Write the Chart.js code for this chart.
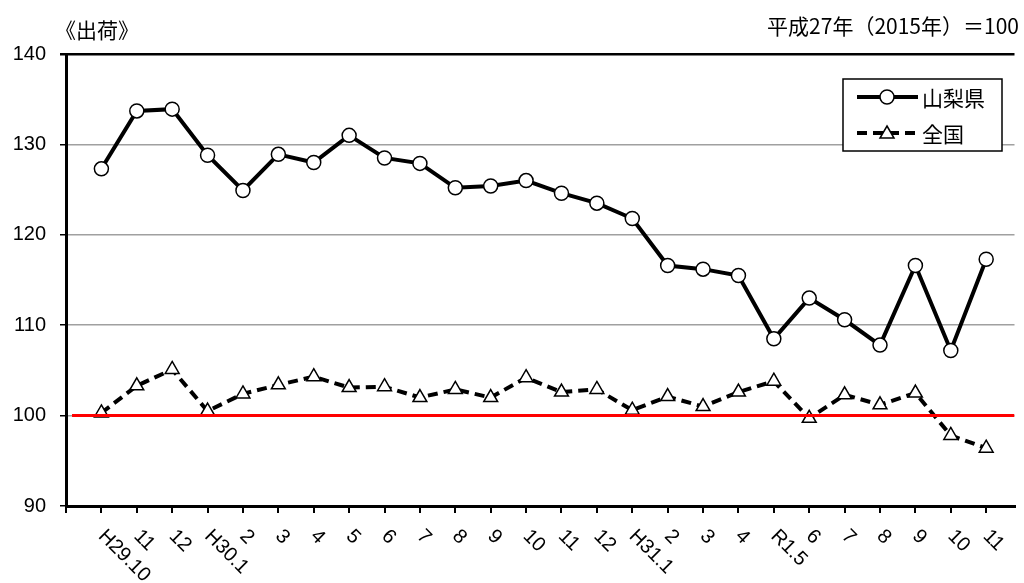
<!DOCTYPE html>
<html>
<head>
<meta charset="utf-8" />
<title>出荷</title>
<script src="https://cdn.jsdelivr.net/npm/chart.js@4.4.0/dist/chart.umd.min.js"></script>
<style>
    body{
        margin: 0;
        background: #fff;
    }
    .chartContainer{
        position: relative;
        width: 1024px;
        height: 583px;
    }
    .note{
        position: absolute;
        font-family: "Noto Sans CJK JP", sans-serif;
        color: #000;
        white-space: nowrap;
        line-height: 1;
    }
    #leftNote{
        left: 55px;
        top: 19px;
        font-size: 21px;
    }
    #rightNote{
        right: 5px;
        top: 15px;
        font-size: 21px;
    }
</style>
</head>
<body>
<div class="chartContainer">
    <canvas id="myChart" width="1024" height="583"></canvas>
    <div class="note" id="leftNote">《出荷》</div>
    <div class="note" id="rightNote">平成27年（2015年）＝100</div>
</div>

<script>
// months from H29.10 to R1.11
var labels = ["H29.10", "11", "12", "H30.1", "2", "3", "4", "5", "6", "7", "8", "9", "10", "11", "12",
              "H31.1", "2", "3", "4", "R1.5", "6", "7", "8", "9", "10", "11"];

var yamanashi = [127.3, 133.7, 133.9, 128.8, 124.9, 128.9, 128.0, 131.0, 128.5, 127.9, 125.2, 125.4, 126.0,
                 124.6, 123.5, 121.8, 116.6, 116.2, 115.5, 108.5, 113.0, 110.6, 107.8, 116.6, 107.2, 117.3];

var zenkoku = [100.3, 103.3, 105.1, 100.5, 102.4, 103.4, 104.3, 103.1, 103.2, 102.0, 102.9, 102.0, 104.2,
               102.6, 102.9, 100.6, 102.1, 101.0, 102.6, 103.8, 99.7, 102.3, 101.2, 102.5, 97.8, 96.4];

var baseValue = 100;
var yTicks = [90, 100, 110, 120, 130, 140];

function toPoints(arr) {
    return arr.map(function (v, i) { return {x: i, y: v}; });
}

var xMin = -1;
var xMax = 25.8;

// legend box drawn inside the plot, like the original
var legendPlugin = {
    id: 'boxLegend',
    afterDraw: function (chart) {
        var ctx = chart.ctx;
        var left = 843, top = 79, w = 159, h = 72;
        ctx.save();
        ctx.fillStyle = '#fff';
        ctx.fillRect(left, top, w, h);
        ctx.strokeStyle = '#000';
        ctx.lineWidth = 1.5;
        ctx.strokeRect(left, top, w, h);

        var rows = [
            {text: '山梨県', y: 97, dash: [], style: 'circle'},
            {text: '全国', y: 133, dash: [10, 6], style: 'triangle'}
        ];
        rows.forEach(function (r) {
            ctx.beginPath();
            ctx.setLineDash(r.dash);
            ctx.lineWidth = 4;
            ctx.strokeStyle = '#000';
            ctx.moveTo(857, r.y);
            ctx.lineTo(918, r.y);
            ctx.stroke();
            ctx.setLineDash([]);
            ctx.lineWidth = 1.5;
            ctx.fillStyle = '#fff';
            ctx.beginPath();
            if (r.style === 'circle') {
                ctx.arc(887, r.y, 7, 0, Math.PI * 2);
            } else {
                ctx.moveTo(887, r.y - 7);
                ctx.lineTo(894, r.y + 5);
                ctx.lineTo(880, r.y + 5);
                ctx.closePath();
            }
            ctx.fill();
            ctx.stroke();
            ctx.fillStyle = '#000';
            ctx.font = '21px "Noto Sans CJK JP"';
            ctx.textAlign = 'left';
            ctx.textBaseline = 'middle';
            ctx.fillText(r.text, 922, r.y + 1);
        });
        ctx.restore();
    }
};

// x labels turned 45 degrees clockwise, starting at the tick
var xLabelPlugin = {
    id: 'slantLabels',
    afterDraw: function (chart) {
        var ctx = chart.ctx;
        var xs = chart.scales.x;
        ctx.save();
        ctx.fillStyle = '#000';
        ctx.font = '20px "Liberation Sans", Arial, sans-serif';
        ctx.textAlign = 'left';
        ctx.textBaseline = 'middle';
        labels.forEach(function (lab, i) {
            var px = xs.getPixelForValue(i);
            ctx.save();
            ctx.translate(px, xs.top + 27);
            ctx.rotate(Math.PI / 4);
            ctx.fillText(lab, 0, 0);
            ctx.restore();
        });
        ctx.restore();
    }
};

var ctx = document.getElementById('myChart').getContext('2d');
var chart = new Chart(ctx, {
    type: 'line',
    data: {
        datasets: [
            {
                label: '基準',
                data: [{x: -0.83, y: baseValue}, {x: xMax, y: baseValue}],
                borderColor: '#ff0000',
                borderWidth: 3,
                pointRadius: 0,
                order: 0
            },
            {
                label: '山梨県',
                data: toPoints(yamanashi),
                borderColor: '#000',
                borderWidth: 4,
                pointStyle: 'circle',
                pointRadius: 7,
                pointBackgroundColor: '#fff',
                pointBorderColor: '#000',
                pointBorderWidth: 1.5,
                order: 1
            },
            {
                label: '全国',
                data: toPoints(zenkoku),
                borderColor: '#000',
                borderWidth: 4,
                borderDash: [10, 6],
                pointStyle: 'triangle',
                pointRadius: 8,
                pointBackgroundColor: '#fff',
                pointBorderColor: '#000',
                pointBorderWidth: 1.5,
                order: 2
            }
        ]
    },
    options: {
        responsive: false,
        animation: false,
        layout: {padding: {top: 54, right: 2, left: 0, bottom: 0}},
        plugins: {
            legend: {display: false},
            tooltip: {enabled: false}
        },
        scales: {
            x: {
                type: 'linear',
                min: xMin,
                max: xMax,
                afterBuildTicks: function (scale) {
                    var t = [{value: xMin}];
                    labels.forEach(function (l, i) { t.push({value: i}); });
                    scale.ticks = t;
                },
                afterFit: function (scale) { scale.height = 77; },
                ticks: {display: false},
                grid: {
                    drawOnChartArea: false,
                    drawTicks: true,
                    tickLength: 7,
                    color: '#000',
                    lineWidth: 2
                },
                border: {color: '#000', width: 3}
            },
            y: {
                min: 90,
                max: 140,
                afterBuildTicks: function (scale) {
                    scale.ticks = yTicks.map(function (v) { return {value: v}; });
                },
                afterFit: function (scale) { scale.width = 66; },
                ticks: {
                    color: '#000',
                    padding: 14,
                    font: {family: '"Liberation Sans", Arial, sans-serif', size: 20}
                },
                grid: {
                    color: function (c) { return c.tick && c.tick.value === 140 ? '#000' : '#a0a0a0'; },
                    lineWidth: function (c) { return c.tick && c.tick.value === 140 ? 2.5 : 1.5; },
                    tickColor: '#000',
                    tickLength: 6
                },
                border: {color: '#000', width: 3}
            }
        }
    },
    plugins: [legendPlugin, xLabelPlugin]
});
</script>
</body>
</html>
